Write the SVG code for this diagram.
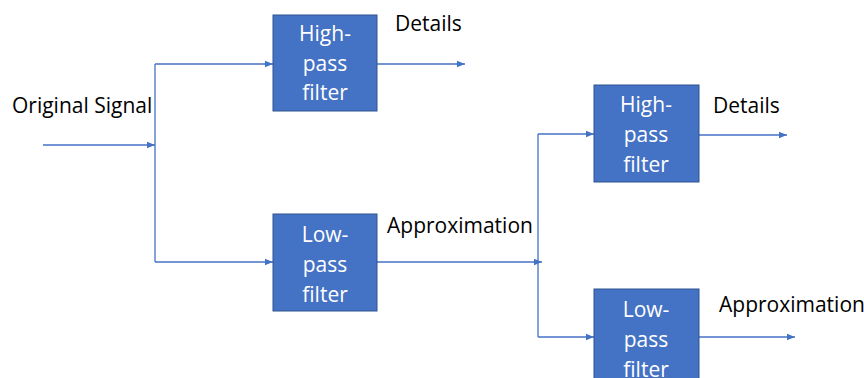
<svg xmlns="http://www.w3.org/2000/svg" width="864" height="378" viewBox="0 0 864 378">
<style>
.box{fill:#4472C4;stroke:#2F528F;stroke-width:1}
.bt{font-family:"Open Sans","Liberation Sans",Arial,sans-serif;font-size:21px;fill:#ffffff;text-anchor:middle}
.lb{font-family:"Open Sans","Liberation Sans",Arial,sans-serif;font-size:21px;fill:#000000}
.ln{fill:none;stroke:#4472C4;stroke-width:1.3}
</style>
<defs>
<marker id="ah" viewBox="0 0 10 10" refX="10" refY="5" markerWidth="8" markerHeight="8" markerUnits="userSpaceOnUse" orient="auto">
<path d="M0,1 L10,5 L0,9 Z" fill="#4472C4"/>
</marker>
</defs>
<rect width="864" height="378" fill="#ffffff"/>
<g id="connectors">
<path class="ln" d="M43,145 H155" marker-end="url(#ah)"/>
<path class="ln" d="M155,64 V262"/>
<path class="ln" d="M155,64 H273" marker-end="url(#ah)"/>
<path class="ln" d="M155,262 H273" marker-end="url(#ah)"/>
<path class="ln" d="M377,64 H465" marker-end="url(#ah)"/>
<path class="ln" d="M377,262 H542" marker-end="url(#ah)"/>
<path class="ln" d="M538,134 V337"/>
<path class="ln" d="M538,134 H594" marker-end="url(#ah)"/>
<path class="ln" d="M538,337 H594" marker-end="url(#ah)"/>
<path class="ln" d="M699,135 H787" marker-end="url(#ah)"/>
<path class="ln" d="M699,337 H795" marker-end="url(#ah)"/>
</g>
<g id="hp1">
<rect class="box" x="273" y="15" width="104" height="96"/>
<text class="bt" x="325" y="41">High-</text>
<text class="bt" x="325" y="71">pass</text>
<text class="bt" x="325" y="100">filter</text>
</g>
<g id="lp1">
<rect class="box" x="273" y="214" width="104" height="97"/>
<text class="bt" x="325" y="242">Low-</text>
<text class="bt" x="325" y="272">pass</text>
<text class="bt" x="325" y="302">filter</text>
</g>
<g id="hp2">
<rect class="box" x="594" y="85" width="105" height="97"/>
<text class="bt" x="646" y="112">High-</text>
<text class="bt" x="646" y="142">pass</text>
<text class="bt" x="646" y="172">filter</text>
</g>
<g id="lp2">
<rect class="box" x="594" y="289" width="105" height="100"/>
<text class="bt" x="646" y="317">Low-</text>
<text class="bt" x="646" y="347">pass</text>
<text class="bt" x="646" y="377">filter</text>
</g>
<g id="labels">
<text class="lb" x="12" y="113">Original Signal</text>
<text class="lb" x="395" y="31">Details</text>
<text class="lb" x="387" y="233">Approximation</text>
<text class="lb" x="713" y="113">Details</text>
<text class="lb" x="719" y="312">Approximation</text>
</g>
</svg>
